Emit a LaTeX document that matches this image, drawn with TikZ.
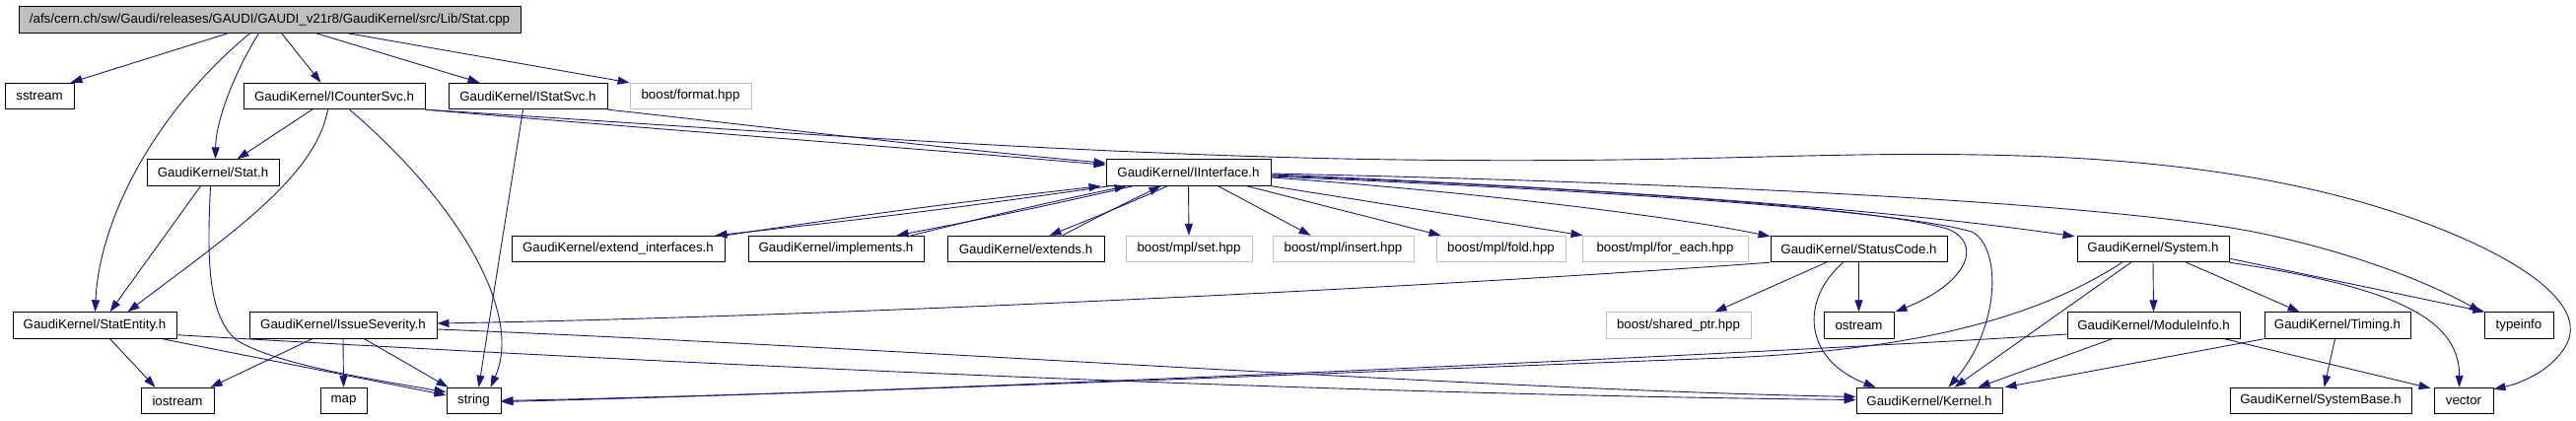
\documentclass[tikz,border=0pt]{standalone}
\usepackage{fontspec}
\setmainfont{Liberation Sans}
\usetikzlibrary{arrows.meta,calc}
\definecolor{edgec}{HTML}{191970}
\definecolor{grayb}{HTML}{BFBFBF}
\newcommand\nfont{\fontsize{13.3}{15}\selectfont}
\tikzset{
  nb/.style={draw=black, line width=0.9pt, minimum height=26.5pt, inner sep=0pt, font=\nfont, text=black},
  gb/.style={nb, draw=grayb},
  conn/.style={draw=edgec, line width=0.9pt, -{Triangle[length=12pt,width=8pt]}},
}
\begin{document}
\begin{tikzpicture}[x=1pt,y=-1pt]
\useasboundingbox (0,0) rectangle (2613,427);
% row A
\node[nb, fill=grayb, minimum width=509pt] (root) at (273.5,20) {/afs/cern.ch/sw/Gaudi/releases/GAUDI/GAUDI\_v21r8/GaudiKernel/src/Lib/Stat.cpp};
% row B
\node[nb, minimum width=70pt] (sstream) at (40,97.5) {sstream};
\node[nb, minimum width=184pt] (icounter) at (339,97.5) {GaudiKernel/ICounterSvc.h};
\node[nb, minimum width=161pt] (istat) at (535.5,97.5) {GaudiKernel/IStatSvc.h};
\node[gb, minimum width=123pt] (bformat) at (700.5,97.5) {boost/format.hpp};
% row C
\node[nb, minimum width=134pt] (stath) at (216,175) {GaudiKernel/Stat.h};
\node[nb, minimum width=167pt] (iint) at (1205.5,175) {GaudiKernel/IInterface.h};
% row D
\node[nb, minimum width=216pt] (extif) at (627,252.5) {GaudiKernel/extend\_interfaces.h};
\node[nb, minimum width=178pt] (impl) at (848,252.5) {GaudiKernel/implements.h};
\node[nb, minimum width=159pt] (extends) at (1040.5,252.5) {GaudiKernel/extends.h};
\node[gb, minimum width=128pt] (mplset) at (1206,252.5) {boost/mpl/set.hpp};
\node[gb, minimum width=143pt] (mplinsert) at (1362.5,252.5) {boost/mpl/insert.hpp};
\node[gb, minimum width=131pt] (mplfold) at (1522.5,252.5) {boost/mpl/fold.hpp};
\node[gb, minimum width=168pt] (mplforeach) at (1689,252.5) {boost/mpl/for\_each.hpp};
\node[nb, minimum width=179pt] (statuscode) at (1885.5,252.5) {GaudiKernel/StatusCode.h};
\node[nb, minimum width=154pt] (system) at (2184,252.5) {GaudiKernel/System.h};
% row E
\node[nb, minimum width=166pt] (statentity) at (96,330) {GaudiKernel/StatEntity.h};
\node[nb, minimum width=190pt] (issue) at (348,330) {GaudiKernel/IssueSeverity.h};
\node[gb, minimum width=147pt] (sharedptr) at (1702.5,330) {boost/shared\_ptr.hpp};
\node[nb, minimum width=71pt] (ostream) at (1885.5,330) {ostream};
\node[nb, minimum width=175pt] (moduleinfo) at (2184.5,330) {GaudiKernel/ModuleInfo.h};
\node[nb, minimum width=148pt] (timing) at (2371,330) {GaudiKernel/Timing.h};
\node[nb, minimum width=70pt] (typeinfo) at (2555,330) {typeinfo};
% row F
\node[nb, minimum width=74pt] (iostream) at (180,406.5) {iostream};
\node[nb, minimum width=47pt] (map) at (348.5,406.5) {map};
\node[nb, minimum width=55pt] (string) at (480.5,406.5) {string};
\node[nb, minimum width=148pt] (kernel) at (1957,406.5) {GaudiKernel/Kernel.h};
\node[nb, minimum width=184pt] (systembase) at (2354,406.5) {GaudiKernel/SystemBase.h};
\node[nb, minimum width=60pt] (vector) at (2499,406.5) {vector};

% root edges
\draw[conn] ($(root.south west)+(213,0)$) -- ($(sstream.north west)+(67,0)$);
\draw[conn] ($(root.south west)+(235,0)$) .. controls (150,120) and (100,230) .. ($(statentity.north west)+(84,0)$);
\draw[conn] ($(root.south west)+(244,0)$) .. controls (240,70) and (219,120) .. ($(stath.north west)+(70,0)$);
\draw[conn] ($(root.south west)+(267,0)$) -- ($(icounter.north west)+(79,0)$);
\draw[conn] ($(root.south west)+(302,0)$) -- ($(istat.north west)+(32,0)$);
\draw[conn] ($(root.south west)+(334,0)$) -- (bformat.north west);
% ICounterSvc
\draw[conn] ($(icounter.south west)+(70,0)$) -- ($(stath.north west)+(92,0)$);
\draw[conn] ($(icounter.south west)+(86,0)$) .. controls (320,180) and (230,240) .. ($(statentity.north west)+(117,0)$);
\draw[conn] ($(icounter.south west)+(108,0)$) .. controls (470,210) and (530,320) .. ($(string.north west)+(45,0)$);
\draw[conn] (icounter.south east) .. controls (650,130) and (950,152) .. ($(iint.north west)+(0,6)$);
\draw[conn] (icounter.south east) .. controls (700,128) and (1100,158) .. (1420,162)
  .. controls (1740,166) and (1850,152) .. (2050,158)
  .. controls (2250,164) and (2380,195) .. (2470,230)
  .. controls (2560,265) and (2625,310) .. (2603,350)
  .. controls (2590,374) and (2560,388) .. ($(vector.north east)+(0,2)$);
% IStatSvc
\draw[conn] (istat.south east) .. controls (700,120) and (950,150) .. ($(iint.north west)+(0,4)$);
\draw[conn] ($(istat.south west)+(76,0)$) -- ($(string.north west)+(33,0)$);
% Stat.h
\draw[conn] ($(stath.south west)+(55,0)$) -- ($(statentity.north west)+(99,0)$);
\draw[conn] ($(stath.south west)+(65,0)$) .. controls (210,260) and (210,320) .. (240,345)
  .. controls (280,370) and (380,385) .. ($(string.north west)+(0,5)$);
% StatEntity
\draw[conn] ($(statentity.south west)+(99,0)$) -- ($(iostream.north west)+(15,0)$);
\draw[conn] ($(statentity.south west)+(152,0)$) -- ($(string.north west)+(0,8)$);
\draw[conn] ($(statentity.south east)+(0,-4)$) .. controls (700,370) and (1350,400) .. ($(kernel.west)+(0,-1)$);
% IssueSeverity
\draw[conn] ($(issue.east)+(0,4)$) .. controls (900,352) and (1500,395) .. ($(kernel.west)+(0,-4)$);
\draw[conn] ($(issue.south west)+(64,0)$) -- ($(iostream.north west)+(71,0)$);
\draw[conn] (issue.south) -- (map.north);
\draw[conn] ($(issue.south west)+(117,0)$) -- ($(string.north west)+(2,0)$);
% IInterface <-> extend_interfaces, implements, extends
\draw[conn] ($(iint.south west)+(4,0)$) to[bend left=1] ($(extif.north west)+(207,0)$);
\draw[conn] (extif.north east) to[bend left=1] ($(iint.south west)+(-5,0)$);
\draw[conn] ($(iint.south west)+(28,0)$) to[bend left=1] ($(impl.north west)+(151,0)$);
\draw[conn] ($(impl.north west)+(166,0)$) to[bend left=1] ($(iint.south west)+(21,0)$);
\draw[conn] ($(iint.south west)+(63,0)$) to[bend left=1] ($(extends.north west)+(104,0)$);
\draw[conn] ($(extends.north west)+(117,0)$) to[bend left=1] ($(iint.south west)+(56,0)$);
% IInterface others
\draw[conn] (iint.south) -- (mplset.north);
\draw[conn] ($(iint.south west)+(114,0)$) -- ($(mplinsert.north west)+(39,0)$);
\draw[conn] ($(iint.south west)+(143,0)$) -- ($(mplfold.north west)+(5,0)$);
\draw[conn] (iint.south east) -- ($(mplforeach.north west)+(1,0)$);
\draw[conn] ($(iint.east)+(0,5)$) .. controls (1500,195) and (1700,220) .. ($(statuscode.north west)+(0,1)$);
\draw[conn] ($(iint.east)+(0,2)$) .. controls (1600,190) and (1900,210) .. ($(system.north west)+(-2,1)$);
\draw[conn] ($(iint.east)+(0,1)$) .. controls (1700,185) and (2150,205) .. (2300,238)
  .. controls (2400,260) and (2470,290) .. ($(typeinfo.north west)+(-3,0)$);
\draw[conn] ($(iint.east)+(0,3)$) .. controls (1600,190) and (1900,210) .. (1975,232)
  .. controls (2010,245) and (2000,285) .. ($(ostream.north east)+(1,0)$);
\draw[conn] ($(iint.east)+(0,4)$) .. controls (1600,192) and (1920,212) .. (2000,235)
  .. controls (2030,250) and (2030,330) .. ($(kernel.north west)+(94,0)$);
% StatusCode
\draw[conn] (statuscode.south west) .. controls (1400,295) and (800,322) .. ($(issue.east)+(0,-2)$);
\draw[conn] ($(statuscode.south west)+(57,0)$) -- ($(sharedptr.north west)+(111,0)$);
\draw[conn] (statuscode.south) -- (ostream.north);
\draw[conn] ($(statuscode.south west)+(74,0)$) .. controls (1825,305) and (1830,365) .. ($(kernel.north west)+(20,0)$);
% System
\draw[conn] (system.south) -- (moduleinfo.north);
\draw[conn] ($(system.south west)+(111,0)$) -- ($(timing.north west)+(36,0)$);
\draw[conn] ($(system.south east)+(0,-4)$) -- ($(typeinfo.north west)+(1,0)$);
\draw[conn] (system.south east) .. controls (2420,290) and (2495,320) .. ($(vector.north west)+(26,0)$);
\draw[conn] ($(system.south west)+(55,0)$) -- ($(kernel.north west)+(100,0)$);
\draw[conn] ($(system.south west)+(46,0)$) .. controls (2070,320) and (1950,355) .. (1750,363)
  .. controls (1350,378) and (900,398) .. (string.east);
% ModuleInfo
\draw[conn] ($(moduleinfo.west)+(0,9)$) .. controls (1800,358) and (1000,395) .. ($(string.east)+(0,1)$);
\draw[conn] ($(moduleinfo.south west)+(46,0)$) -- ($(kernel.north west)+(124,0)$);
\draw[conn] ($(moduleinfo.south west)+(160,0)$) -- ($(vector.north west)+(-3,1)$);
% Timing
\draw[conn] (timing.south west) -- ($(kernel.north east)+(2,0)$);
\draw[conn] ($(timing.south west)+(72,0)$) -- ($(systembase.north west)+(96,0)$);
\end{tikzpicture}
\end{document}
